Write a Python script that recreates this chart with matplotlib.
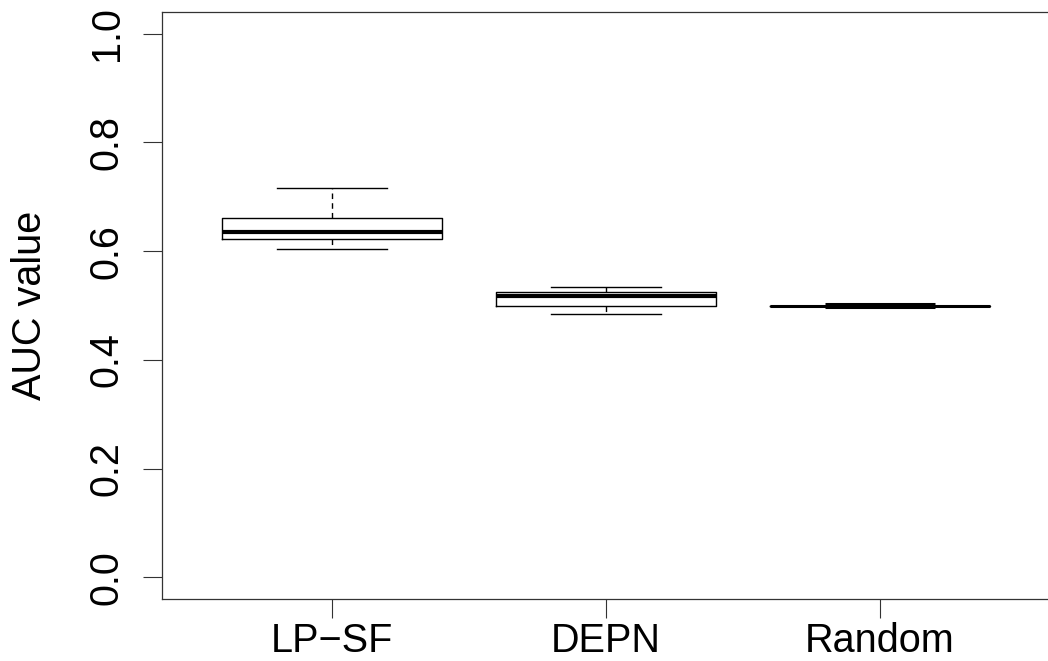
import matplotlib
matplotlib.use("Agg")
import matplotlib.pyplot as plt

plt.rcParams['font.family'] = ['Liberation Sans', 'DejaVu Sans']

# Boxplot summary statistics for each method
methods = ["LP\u2212SF", "DEPN", "Random"]
whisker_low = [0.604, 0.484, 0.4975]
q1 = [0.622, 0.500, 0.4997]
median = [0.635, 0.518, 0.4998]
q3 = [0.661, 0.525, 0.4999]
whisker_high = [0.716, 0.534, 0.5020]

y_ticks = [0.0, 0.2, 0.4, 0.6, 0.8, 1.0]
y_tick_labels = ["0.0", "0.2", "0.4", "0.6", "0.8", "1.0"]

stats = []
for i, name in enumerate(methods):
    stats.append(dict(label=name, whislo=whisker_low[i], q1=q1[i], med=median[i],
                      q3=q3[i], whishi=whisker_high[i], fliers=[]))

W, H = 1048, 661
fig = plt.figure(figsize=(W / 100, H / 100), dpi=100)
left, right, top, bottom = 162.1, 1049.9, 12.0, 599.0
ax = fig.add_axes([left / W, 1 - bottom / H, (right - left) / W, (bottom - top) / H])

parts = ax.bxp(stats, positions=[1, 2, 3], widths=0.8, showfliers=False,
               boxprops=dict(color="black", linewidth=1.0),
               medianprops=dict(color="black", linewidth=3.0, solid_capstyle="butt"),
               whiskerprops=dict(color="black", linewidth=1.0, linestyle=(0, (4, 3))),
               capprops=dict(color="black", linewidth=1.0),
               capwidths=0.4)

# the degenerate Random box: collapsed lines drawn thinner, stacked caps form a heavier centre
parts["medians"][2].set_linewidth(2.2)
for cap in parts["caps"][4:6]:
    cap.set_linewidth(2.2)
    cap.set_solid_capstyle("butt")

ax.set_xlim(0.38, 3.62)
ax.set_ylim(-0.04, 1.04)
ax.set_xticks([1, 2, 3])
ax.set_xticklabels(methods, fontsize=28.5)
ax.set_yticks(y_ticks)
ax.set_yticklabels(y_tick_labels, fontsize=28.5, rotation=90, va="center")
ax.tick_params(axis="both", length=13.5, width=0.8, color="#333333")
ax.tick_params(axis="x", pad=3)
ax.tick_params(axis="y", pad=12.5)
ax.set_ylabel("AUC value", fontsize=28.5, labelpad=28)

for s in ax.spines.values():
    s.set_linewidth(0.9)
    s.set_color("#333333")

fig.savefig("out.png", dpi=100, facecolor="white")
